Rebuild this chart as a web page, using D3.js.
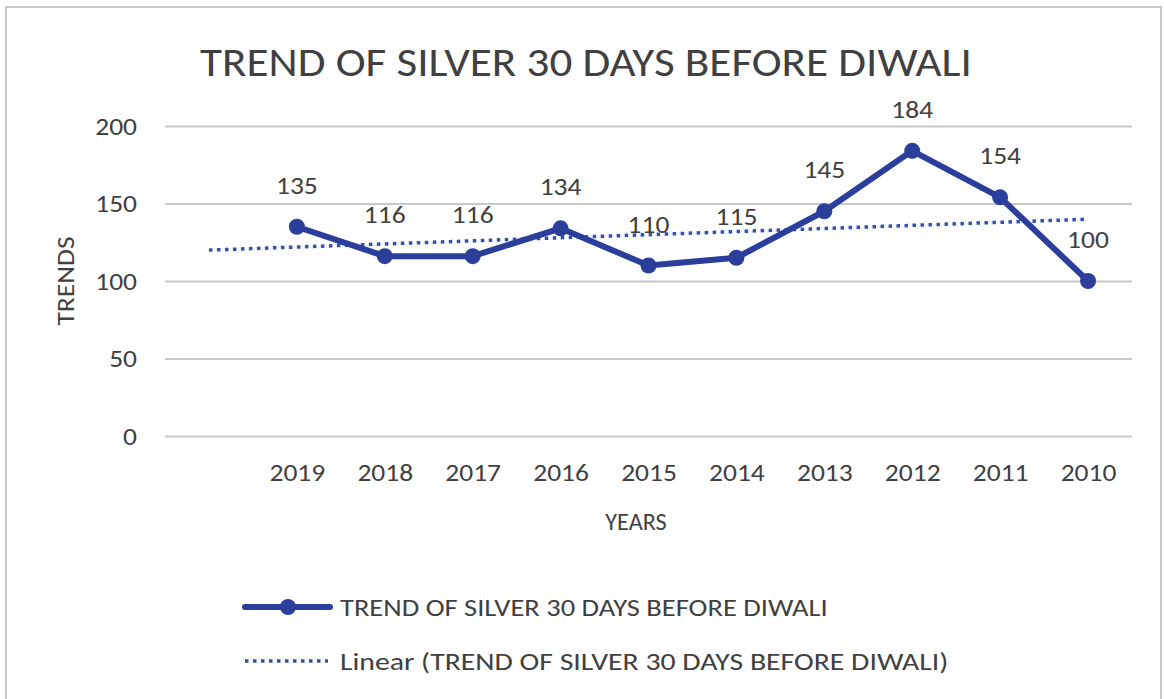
<!DOCTYPE html>
<html>
<head>
<meta charset="utf-8">
<script src="https://cdn.jsdelivr.net/npm/d3@7"></script>
<style>
  body { margin: 0; background: #fff; }
  text { font-family: Carlito, Lato, "Open Sans", sans-serif; fill: #404040; }
</style>
</head>
<body>
<div id="chart"></div>
<script>
const title = "TREND OF SILVER 30 DAYS BEFORE DIWALI";
// first category is left blank in the original sheet
const categories = ["", "2019", "2018", "2017", "2016", "2015", "2014", "2013", "2012", "2011", "2010"];
const values = [null, 135, 116, 116, 134, 110, 115, 145, 184, 154, 100];
const yTicks = [0, 50, 100, 150, 200];

const width = 1164;
const height = 699;
const margin = { left: 165, right: 32, top: 126, bottom: 263 };
const fs = "25px";

const svg = d3
  .select("#chart")
  .append("svg")
  .attr("width", width)
  .attr("height", height);

// the original font is a bit wider than Lato, stretch text horizontally
function widen(sel, k = 1.1) {
  sel.each(function () {
    const len = this.getComputedTextLength();
    d3.select(this).attr("textLength", len * k).attr("lengthAdjust", "spacingAndGlyphs");
  });
}

// chart border
svg
  .append("rect")
  .attr("x", 6)
  .attr("y", 7)
  .attr("width", 1155)
  .attr("height", 700)
  .attr("fill", "none")
  .attr("stroke", "#c8c8c8")
  .attr("stroke-width", 2);

const x = d3
  .scaleBand()
  .domain(categories.map((d, i) => i))
  .range([margin.left, width - margin.right]);

const y = d3
  .scaleLinear()
  .domain([0, 200])
  .range([height - margin.bottom, margin.top]);

const cx = (i) => x(i) + x.bandwidth() / 2;

// gridlines + y labels
const yAxis = d3
  .axisLeft(y)
  .tickValues(yTicks)
  .tickSize(-(width - margin.right - margin.left))
  .tickPadding(28);

svg
  .append("g")
  .attr("transform", `translate(${margin.left},0)`)
  .call(yAxis)
  .call((g) => g.select(".domain").remove())
  .call((g) => g.selectAll("line").attr("stroke", "#c8c8c8").attr("stroke-width", 2))
  .call((g) => g.selectAll("text").attr("font-family", null).style("font-size", fs).attr("fill", "#404040").call(widen));

// x labels
const xAxis = d3
  .axisBottom(d3.scalePoint().domain(categories.map((d, i) => i)).range([cx(0), cx(10)]))
  .tickSize(0)
  .tickPadding(27)
  .tickFormat((i) => categories[i]);

svg
  .append("g")
  .attr("transform", `translate(0,${y(0)})`)
  .call(xAxis)
  .call((g) => g.select(".domain").remove())
  .call((g) => g.selectAll("text").attr("font-family", null).style("font-size", fs).attr("fill", "#404040").call(widen));

// title
svg
  .append("text")
  .attr("x", 586)
  .attr("y", 76)
  .attr("text-anchor", "middle")
  .style("font-size", "41px")
  .attr("fill", "#262626")
  .text(title)
  .call(widen, 1.1);

// axis titles
svg
  .append("text")
  .attr("transform", `translate(74,${y(100)}) rotate(-90)`)
  .attr("text-anchor", "middle")
  .style("font-size", fs)
  .text("TRENDS")
  .call(widen);

svg
  .append("text")
  .attr("x", 636)
  .attr("y", 530)
  .attr("text-anchor", "middle")
  .style("font-size", fs)
  .text("YEARS")
  .call(widen, 0.97);

// linear trend (least squares over category positions)
const pts = values.map((v, i) => [i, v]).filter((d) => d[1] != null);
const mx = d3.mean(pts, (d) => d[0]);
const my = d3.mean(pts, (d) => d[1]);
const slope =
  d3.sum(pts, (d) => (d[0] - mx) * (d[1] - my)) /
  d3.sum(pts, (d) => (d[0] - mx) ** 2);
const trend = [0, categories.length - 1].map((i) => [i, my + slope * (i - mx)]);

const blue = "#2b3e9c";
const trendBlue = "#3050b0";

svg
  .append("path")
  .datum(trend)
  .attr("fill", "none")
  .attr("stroke", trendBlue)
  .attr("stroke-width", 3.5)
  .attr("stroke-dasharray", "3.5,4.5")
  .attr("d", d3.line().x((d) => cx(d[0])).y((d) => y(d[1])));

// main line
const line = d3
  .line()
  .defined((d) => d[1] != null)
  .x((d) => cx(d[0]))
  .y((d) => y(d[1]));

svg
  .append("path")
  .datum(values.map((v, i) => [i, v]))
  .attr("fill", "none")
  .attr("stroke", blue)
  .attr("stroke-width", 6)
  .attr("stroke-linejoin", "round")
  .attr("d", line);

svg
  .append("g")
  .selectAll("circle")
  .data(pts)
  .enter()
  .append("circle")
  .attr("cx", (d) => cx(d[0]))
  .attr("cy", (d) => y(d[1]))
  .attr("r", 8)
  .attr("fill", blue);

// data labels
svg
  .append("g")
  .selectAll("text")
  .data(pts)
  .enter()
  .append("text")
  .attr("x", (d) => cx(d[0]))
  .attr("y", (d) => y(d[1]) - 33)
  .attr("text-anchor", "middle")
  .style("font-size", fs)
  .text((d) => d[1])
  .call(widen);

// legend
const legend = svg.append("g");
legend
  .append("line")
  .attr("x1", 245)
  .attr("x2", 330)
  .attr("y1", 607)
  .attr("y2", 607)
  .attr("stroke", blue)
  .attr("stroke-width", 6)
  .attr("stroke-linecap", "round");
legend.append("circle").attr("cx", 288).attr("cy", 607).attr("r", 8).attr("fill", blue);
legend
  .append("text")
  .attr("x", 340)
  .attr("y", 616)
  .style("font-size", fs)
  .text(title)
  .call(widen, 1.14);

legend
  .append("line")
  .attr("x1", 245)
  .attr("x2", 328)
  .attr("y1", 661)
  .attr("y2", 661)
  .attr("stroke", trendBlue)
  .attr("stroke-width", 3.5)
  .attr("stroke-dasharray", "3.5,4.5");
legend
  .append("text")
  .attr("x", 340)
  .attr("y", 670)
  .style("font-size", fs)
  .text(`Linear (${title})`)
  .call(widen, 1.19);
</script>
</body>
</html>
